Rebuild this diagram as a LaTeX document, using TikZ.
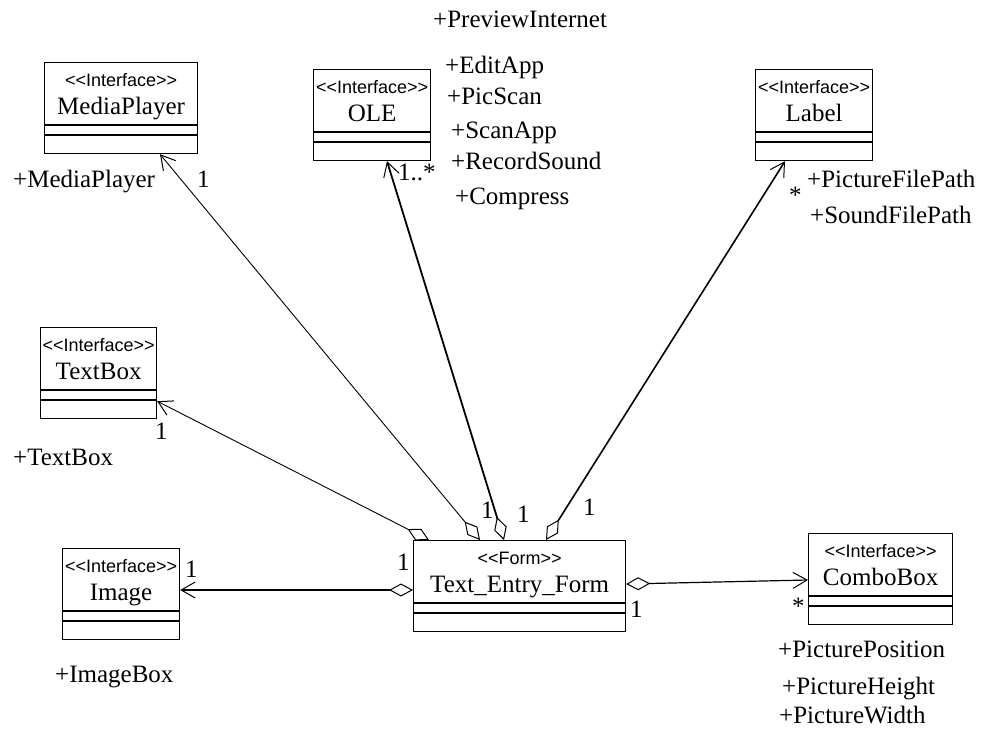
\documentclass[tikz,border=0pt]{standalone}
\usepackage{fontspec}
\setmainfont{Liberation Serif}
\newfontfamily\stereofont{Liberation Sans}
\usetikzlibrary{arrows.meta,calc}

% UML class box: name, left, top, width, stereotype, class name
\newcommand\umlclass[6]{%
  \node[cls, minimum width=#4pt] (#1) at (#2,#3) {};
  \node[stereo] (#1-st) at ($(#1.north)+(0,24)$) {#5};
  \node[title] (#1-nm) at ($(#1.north)+(0,52)$) {#6};
  \draw[sepline] ($(#1.north west)+(0,63)$) -- ($(#1.north east)+(0,63)$);
  \draw[sepline] ($(#1.north west)+(0,73)$) -- ($(#1.north east)+(0,73)$);
}

\begin{document}
\begin{tikzpicture}[x=1pt,y=-1pt,
  cls/.style={draw, line width=1.2pt, inner sep=0pt, anchor=north west, minimum height=91pt},
  stereo/.style={font=\stereofont\fontsize{18}{20}\selectfont, anchor=base, inner sep=0pt},
  title/.style={font=\fontsize{25}{28}\selectfont, anchor=base, inner sep=0pt},
  lbl/.style={font=\fontsize{25}{28}\selectfont, anchor=base west, inner sep=0pt},
  sepline/.style={line width=1.2pt},
  assoc/.style={line width=#1,
    {Diamond[open,length=24pt,width=13pt,line width=1pt]}-{Straight Barb[length=14pt,width=16pt,line width=1pt]}},
]
\useasboundingbox (0,0) rectangle (984,732);

% classes
\umlclass{mp}{44}{62}{153}{<<Interface>>}{MediaPlayer}
\umlclass{ole}{313}{69}{117}{<<Interface>>}{OLE}
\umlclass{lab}{755}{69}{117}{<<Interface>>}{Label}
\umlclass{tb}{40}{327}{116}{<<Interface>>}{TextBox}
\umlclass{img}{62}{548}{117}{<<Interface>>}{Image}
\umlclass{form}{413}{540}{212}{<<Form>>}{Text\_Entry\_Form}
\umlclass{cb}{808}{533}{144}{<<Interface>>}{ComboBox}

% aggregations from the form
\draw[assoc=0.9pt] ($(form.north west)+(67,0)$) -- ($(mp.south west)+(116,0)$);
\draw[assoc=1.8pt] ($(form.north west)+(91,0)$) -- ($(ole.south west)+(74,0)$);
\draw[assoc=1.6pt] ($(form.north west)+(133,0)$) -- ($(lab.south west)+(30,0)$);
\draw[assoc=0.9pt] ($(form.north west)+(16,0)$) -- ($(tb.south east)+(0,-18)$);
\draw[assoc=1.2pt] ($(form.north west)+(0,50)$) -- ($(img.north east)+(0,42)$);
\draw[assoc=1.2pt] ($(form.north east)+(0,44)$) -- ($(cb.north west)+(0,47)$);

% multiplicities
\node[lbl] (m-mp) at (197,187) {1};
\node[lbl] (m-ole) at (398,180) {1..*};
\node[lbl] (m-lab) at (789,203) {*};
\node[lbl] (m-tb) at (155,439) {1};
\node[lbl] (m-img) at (185,577) {1};
\node[lbl] (m-fimg) at (397,570) {1};
\node[lbl] (m-fmp) at (481,518) {1};
\node[lbl] (m-fole) at (517,522) {1};
\node[lbl] (m-flab) at (583,515) {1};
\node[lbl] (m-fcb) at (630,617) {1};
\node[lbl] (m-cb) at (792,614) {*};

% role names
\node[lbl] (r-prev) at (433,27) {+PreviewInternet};
\node[lbl] (r-edit) at (445,73) {+EditApp};
\node[lbl] (r-pics) at (447,104) {+PicScan};
\node[lbl] (r-scan) at (451,138) {+ScanApp};
\node[lbl] (r-rec) at (451,169) {+RecordSound};
\node[lbl] (r-comp) at (455,204) {+Compress};
\node[lbl] (r-mp) at (13,187) {+MediaPlayer};
\node[lbl] (r-pfp) at (807,187) {+PictureFilePath};
\node[lbl] (r-sfp) at (810,223) {+SoundFilePath};
\node[lbl] (r-tb) at (13,465) {+TextBox};
\node[lbl] (r-img) at (55,682) {+ImageBox};
\node[lbl] (r-ppos) at (778,657) {+PicturePosition};
\node[lbl] (r-ph) at (782,694) {+PictureHeight};
\node[lbl] (r-pw) at (779,723) {+PictureWidth};
\end{tikzpicture}
\end{document}
